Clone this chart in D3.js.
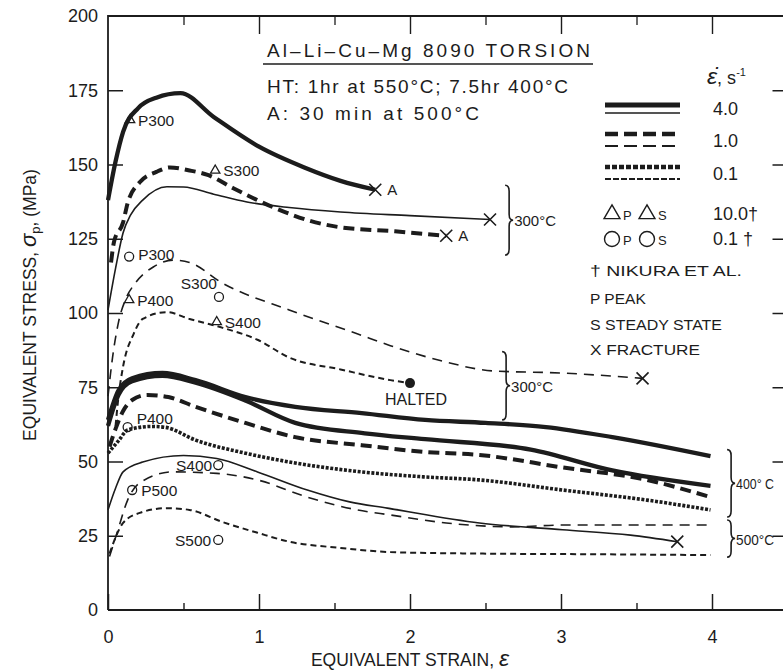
<!DOCTYPE html>
<html><head><meta charset="utf-8">
<script src="https://cdn.jsdelivr.net/npm/d3@7"></script>
<style>
body{margin:0;background:#fff}
svg{display:block}
text{font-family:"Liberation Sans",Arial,sans-serif;fill:#1c1c1c}
</style>
</head><body>
<svg id="c" width="783" height="671"></svg>
<script>
// ---------- DATA (strain, stress MPa) ----------
const xMajor = [0, 1, 2, 3, 4];
const xMinor = [0.5, 1.5, 2.5, 3.5];
const yMajor = [0, 25, 50, 75, 100, 125, 150, 175, 200];

// 300 C
const t300_r4_A   = [[0,138],[0.05,151],[0.1,161],[0.2,169],[0.32,172.5],[0.48,174],[0.7,166],[1.0,156],[1.3,149],[1.54,144.5],[1.77,141.5]];
const t300_r1_A   = [[0.02,117],[0.04,124],[0.1,130.5],[0.13,137],[0.21,144],[0.32,147.5],[0.41,149],[0.54,148],[0.66,146.5],[0.83,142],[1.09,135.7],[1.32,131.3],[1.52,129],[1.9,127.5],[2.24,126]];
const t300_thin   = [[0,101],[0.05,115],[0.1,127],[0.15,133],[0.23,138],[0.39,142.5],[0.5,142.4],[0.7,140],[0.92,137.4],[1.2,135.5],[1.54,134],[2.0,132.8],[2.53,131.5]];
const t300_dash   = [[0,72],[0.03,85],[0.07,97],[0.12,105],[0.18,110],[0.3,115.5],[0.43,117.8],[0.54,117],[0.76,110],[1.2,101],[1.65,93],[1.87,89],[2.2,84],[2.55,80.5],[3.0,79.8],[3.54,78]];
const t300_halted = [[0.05,62],[0.07,72],[0.1,82],[0.17,93],[0.23,98],[0.39,100.3],[0.54,98],[0.76,95],[0.99,91],[1.2,85],[1.54,81],[1.87,77.4],[2.0,76.4]];
// 400 C
const t400_r4a  = [[0,64],[0.07,74],[0.16,78],[0.36,79.8],[0.58,77.4],[0.91,71.7],[1.24,68.4],[1.68,66.3],[2.1,64],[2.5,63],[2.9,61.6],[3.34,58.2],[3.99,51.8]];
const t400_r4b  = [[0,62],[0.07,72.5],[0.16,77],[0.36,78.8],[0.58,76.5],[0.91,70.5],[1.24,63],[1.7,59.5],[2.1,57.5],[2.8,54],[3.34,47],[3.99,41.8]];
const t400_r1   = [[0.01,55],[0.05,61],[0.1,67],[0.16,70.7],[0.26,72.4],[0.4,71.7],[0.58,68.4],[0.91,63],[1.24,58.2],[1.68,55.5],[2.1,53.2],[2.46,52.2],[3.01,48],[3.57,43.8],[3.99,38]];
const t400_r01  = [[0,52.8],[0.07,57],[0.13,60.6],[0.29,61.8],[0.38,61.5],[0.58,57.2],[0.91,52.8],[1.24,49.5],[1.68,46.5],[2.1,44.8],[2.46,43.8],[3.01,40.4],[3.57,37],[3.99,33.7]];
// 500 C
const t500_thin = [[0,33.7],[0.05,41],[0.1,46.5],[0.23,49.8],[0.5,52],[0.72,51],[0.99,46.5],[1.32,40.4],[1.6,36.4],[1.85,34.3],[2.46,29.3],[3.01,27],[3.46,25.2],[3.77,23]];
const t500_dash = [[0.01,18],[0.06,26],[0.13,37],[0.21,42.8],[0.43,46.5],[0.72,46],[0.99,43.8],[1.32,38],[1.65,33.7],[1.87,32],[2.24,29.3],[2.68,28],[3.01,28.6],[3.5,28.6],[3.97,28.6]];
const t500_short= [[0.01,19],[0.1,29.3],[0.21,32.7],[0.39,34.3],[0.54,33.7],[0.76,29.6],[0.99,26],[1.2,23],[1.54,20.9],[1.87,19.5],[2.46,19],[3.13,18.8],[3.99,18.5]];

// markers (Nikura et al.)
const triMarks  = [{e:0.146,s:165,label:"P300"},{e:0.71,s:148,label:"S300"},{e:0.14,s:104.4,label:"P400"},{e:0.72,s:97,label:"S400"}];
const circMarks = [{e:0.14,s:119,label:"P300"},{e:0.735,s:105.4,label:"S300"},{e:0.13,s:61.6,label:"P400"},{e:0.73,s:48.8,label:"S400"},{e:0.16,s:40.4,label:"P500"},{e:0.73,s:23.6,label:"S500"}];
const fractures = [{e:1.77,s:141.5,label:"A"},{e:2.24,s:126,label:"A"},{e:2.53,s:131.5,label:""},{e:3.54,s:78,label:""},{e:3.77,s:23,label:""}];
const halted    = [{e:2.0,s:76.4,label:"HALTED"}];
const braces    = [{e:2.63,lo:119.5,hi:143,label:"300°C"},{e:2.61,lo:64,hi:87,label:"300°C"},{e:4.1,lo:31.3,hi:54,label:"400° C"},{e:4.1,lo:17.8,hi:30.3,label:"500°C"}];
const rateLabels = ["4.0","1.0","0.1"];

// ---------- STYLES ----------
const ink = "#1c1c1c";
const styles = {
  thickSolid:{w:4.3,d:null},
  thickDash:{w:4,d:"11,6"},
  thickDot:{w:3.6,d:"3,1.6"},
  thinSolid:{w:1.6,d:null},
  thinDash:{w:1.6,d:"10,7"},
  shortDash:{w:2,d:"6,4"}
};
const curves = [
  [t300_r4_A,"thickSolid"],[t300_r1_A,"thickDash"],[t300_thin,"thinSolid"],[t300_dash,"thinDash"],[t300_halted,"shortDash"],
  [t400_r4a,"thickSolid"],[t400_r4b,"thickSolid"],[t400_r1,"thickDash"],[t400_r01,"thickDot"],
  [t500_thin,"thinSolid"],[t500_dash,"thinDash"],[t500_short,"shortDash"]
];

// ---------- SCALES ----------
const svg = d3.select("#c");
const x = d3.scaleLinear().domain([0,4.5]).range([108,108+4.5*151]);
const y = d3.scaleLinear().domain([0,200]).range([610,16]);

// frame
const g = svg.append("g");
g.append("path").attr("d",`M${x(0)},${y(0)}V${y(200)}H${x(4.5)}M${x(0)},${y(0)}H${x(4.5)}`)
  .attr("fill","none").attr("stroke",ink).attr("stroke-width",1.8);

// bottom axis
const bx = g.append("g").attr("transform",`translate(0,${y(0)})`)
  .call(d3.axisBottom(x).tickValues(xMajor).tickSize(-16).tickPadding(20).tickFormat(d3.format("d")));
bx.select(".domain").remove();
bx.selectAll("line").attr("stroke",ink).attr("stroke-width",1.5);
bx.selectAll("text").attr("font-size",18).attr("font-family","Liberation Sans, Arial, sans-serif").attr("fill",ink);
const bm = g.append("g").attr("transform",`translate(0,${y(0)})`).call(d3.axisBottom(x).tickValues(xMinor).tickSize(-7).tickFormat(""));
bm.select(".domain").remove(); bm.selectAll("line").attr("stroke",ink).attr("stroke-width",1.4);
// top axis
const tx = g.append("g").attr("transform",`translate(0,${y(200)})`).call(d3.axisTop(x).tickValues(xMajor.slice(1)).tickSize(-18).tickFormat(""));
tx.select(".domain").remove(); tx.selectAll("line").attr("stroke",ink).attr("stroke-width",1.4);
const tm = g.append("g").attr("transform",`translate(0,${y(200)})`).call(d3.axisTop(x).tickValues(xMinor).tickSize(-9).tickFormat(""));
tm.select(".domain").remove(); tm.selectAll("line").attr("stroke",ink).attr("stroke-width",1.3);
// left axis
const ly = g.append("g").attr("transform",`translate(${x(0)},0)`)
  .call(d3.axisLeft(y).tickValues(yMajor).tickSize(-15).tickPadding(10));
ly.select(".domain").remove();
ly.selectAll("line").attr("stroke",ink).attr("stroke-width",1.5);
ly.selectAll(".tick").filter(d=>d===0||d===200).select("line").remove();
ly.selectAll("text").attr("font-size",18).attr("font-family","Liberation Sans, Arial, sans-serif").attr("fill",ink);
// right axis ticks
const ry = g.append("g").attr("transform",`translate(${x(4.5)},0)`).call(d3.axisRight(y).tickValues(yMajor.slice(1,-1)).tickSize(-15).tickFormat(""));
ry.select(".domain").remove(); ry.selectAll("line").attr("stroke",ink).attr("stroke-width",1.5);

// axis titles
svg.append("text").attr("x",410).attr("y",666).attr("text-anchor","middle").attr("font-size",17.5)
  .text("EQUIVALENT STRAIN, ").append("tspan").attr("font-size",23).attr("font-style","italic").text("ε");
const yt = svg.append("text").attr("transform","translate(36,305) rotate(-90)").attr("text-anchor","middle").attr("font-size",17.5);
yt.append("tspan").text("EQUIVALENT STRESS, ");
yt.append("tspan").attr("font-size",22).attr("font-style","italic").text("σ");
yt.append("tspan").attr("font-size",13).attr("dy",4).text("p");
yt.append("tspan").attr("dy",-4).text(", (MPa)");

// ---------- CURVES ----------
const line = d3.line().x(d=>x(d[0])).y(d=>y(d[1])).curve(d3.curveMonotoneX);
const cg = svg.append("g").attr("fill","none").attr("stroke",ink).attr("stroke-linejoin","round");
curves.forEach(([data,st])=>{
  const s = styles[st];
  const p = cg.append("path").attr("d",line(data)).attr("stroke-width",s.w);
  if(s.d) p.attr("stroke-dasharray",s.d);
});

// ---------- MARKERS ----------
const mg = svg.append("g");
const tri = d3.symbol().type(d3.symbolTriangle).size(38);
triMarks.forEach(d=>{
  mg.append("path").attr("d",tri()).attr("transform",`translate(${x(d.e)},${y(d.s)})`)
    .attr("fill","none").attr("stroke",ink).attr("stroke-width",1.3);
  mg.append("text").attr("x",x(d.e)+8).attr("y",y(d.s)+6).attr("font-size",15.5).text(d.label);
});
const circLayout = {P300:[9,3,"start"],S300:[-2,-8,"end"],P400:[9,-3,"start"],S400:[-6,6,"end"],P500:[9,6,"start"],S500:[-7,6,"end"]};
circMarks.forEach(d=>{
  mg.append("circle").attr("cx",x(d.e)).attr("cy",y(d.s)).attr("r",4.5)
    .attr("fill","none").attr("stroke",ink).attr("stroke-width",1.3);
  const o = circLayout[d.label];
  mg.append("text").attr("x",x(d.e)+o[0]).attr("y",y(d.s)+o[1]).attr("text-anchor",o[2]).attr("font-size",15.5).text(d.label);
});
fractures.forEach(d=>{
  const cx=x(d.e), cy=y(d.s), r=6;
  mg.append("path").attr("d",`M${cx-r},${cy-r}L${cx+r},${cy+r}M${cx+r},${cy-r}L${cx-r},${cy+r}`)
    .attr("stroke",ink).attr("stroke-width",1.6);
  if(d.label) mg.append("text").attr("x",cx+12).attr("y",cy+5).attr("font-size",15).text(d.label);
});
halted.forEach(d=>{
  mg.append("circle").attr("cx",x(d.e)).attr("cy",y(d.s)).attr("r",5).attr("fill",ink);
  mg.append("text").attr("x",x(d.e)-25).attr("y",y(d.s)+22).attr("font-size",16).text(d.label);
});
// braces
braces.forEach(b=>{
  const bx0=x(b.e), y1=y(b.hi), y2=y(b.lo), ym=(y1+y2)/2, w=4, q=6;
  mg.append("path").attr("d",
    `M${bx0},${y1}Q${bx0+w},${y1} ${bx0+w},${y1+q}L${bx0+w},${ym-q}Q${bx0+w},${ym} ${bx0+2*w},${ym}Q${bx0+w},${ym} ${bx0+w},${ym+q}L${bx0+w},${y2-q}Q${bx0+w},${y2} ${bx0},${y2}`)
    .attr("fill","none").attr("stroke",ink).attr("stroke-width",1.6);
  const t = mg.append("text").attr("x",bx0+9).attr("y",ym+6).attr("font-size",15).text(b.label);
  const room = 774 - (bx0+9);
  if(t.node().getComputedTextLength() > room) t.attr("textLength",room).attr("lengthAdjust","spacingAndGlyphs");
});

// ---------- TITLE BLOCK ----------
svg.append("text").attr("x",267).attr("y",57).attr("font-size",19).attr("textLength",323).attr("lengthAdjust","spacing").text("Al–Li–Cu–Mg  8090  TORSION");
svg.append("line").attr("x1",263).attr("x2",593).attr("y1",64).attr("y2",64).attr("stroke",ink).attr("stroke-width",1.5);
svg.append("text").attr("x",267).attr("y",93).attr("font-size",19).attr("textLength",301).attr("lengthAdjust","spacing").text("HT: 1hr at 550°C; 7.5hr 400°C");
svg.append("text").attr("x",267).attr("y",120).attr("font-size",19).attr("textLength",212).attr("lengthAdjust","spacing").text("A: 30 min at 500°C");

// ---------- LEGEND ----------
const lg = svg.append("g");
const hdr = lg.append("text").attr("x",707).attr("y",84).attr("font-size",18);
hdr.append("tspan").attr("font-size",23).attr("font-style","italic").text("ε̇");
hdr.append("tspan").text(", s");
hdr.append("tspan").attr("font-size",11).attr("dy",-8).text("-1");
const legRows = [
  {yTop:105,yBot:113,top:{w:5,d:null},bot:{w:1.6,d:null}},
  {yTop:134,yBot:146,top:{w:4.5,d:"13,6"},bot:{w:1.8,d:"13,6"}},
  {yTop:167,yBot:179,top:{w:4.5,d:"5,2"},bot:{w:1.8,d:"6,2"}}
];
legRows.forEach((r,i)=>{
  lg.append("line").attr("x1",605).attr("x2",680).attr("y1",r.yTop).attr("y2",r.yTop).attr("stroke",ink).attr("stroke-width",r.top.w).attr("stroke-dasharray",r.top.d);
  lg.append("line").attr("x1",605).attr("x2",680).attr("y1",r.yBot).attr("y2",r.yBot).attr("stroke",ink).attr("stroke-width",r.bot.w).attr("stroke-dasharray",r.bot.d);
  lg.append("text").attr("x",713).attr("y",[115,147,180][i]).attr("font-size",18).text(rateLabels[i]);
});
const triL = d3.symbol().type(d3.symbolTriangle).size(110);
[612,647].forEach((px,i)=>{
  lg.append("path").attr("d",triL()).attr("transform",`translate(${px},214)`).attr("fill","none").attr("stroke",ink).attr("stroke-width",1.4);
  lg.append("text").attr("x",px+11).attr("y",220).attr("font-size",13).text(i?"S":"P");
  lg.append("circle").attr("cx",px).attr("cy",239).attr("r",7.5).attr("fill","none").attr("stroke",ink).attr("stroke-width",1.4);
  lg.append("text").attr("x",px+11).attr("y",245).attr("font-size",13).text(i?"S":"P");
});
lg.append("text").attr("x",713).attr("y",220).attr("font-size",18).text("10.0†");
lg.append("text").attr("x",713).attr("y",245).attr("font-size",18).text("0.1 †");
lg.append("text").attr("x",590).attr("y",276).attr("font-size",15).attr("textLength",152).attr("lengthAdjust","spacingAndGlyphs").text("† NIKURA ET AL.");
lg.append("text").attr("x",590).attr("y",304).attr("font-size",15.5).text("P PEAK");
lg.append("text").attr("x",590).attr("y",330).attr("font-size",15.5).attr("textLength",132).attr("lengthAdjust","spacingAndGlyphs").text("S STEADY STATE");
lg.append("text").attr("x",590).attr("y",355).attr("font-size",15.5).attr("textLength",110).attr("lengthAdjust","spacingAndGlyphs").text("X FRACTURE");
</script>
</body></html>
